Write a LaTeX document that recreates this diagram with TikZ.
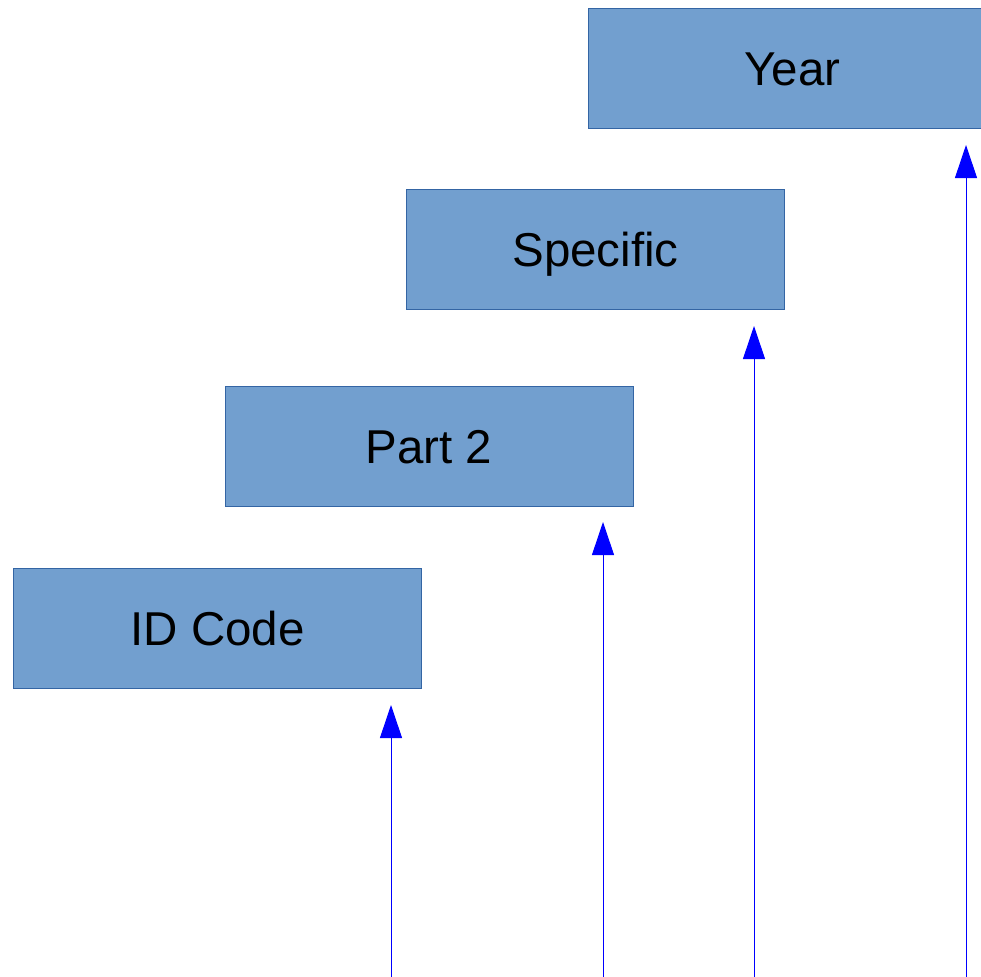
\documentclass[tikz,border=0pt]{standalone}
\usepackage{fontspec}
\setmainfont{Liberation Sans}
\usetikzlibrary{arrows.meta,positioning}
\definecolor{boxfill}{HTML}{729FCF}
\definecolor{boxline}{HTML}{3465A4}

\begin{document}
\begin{tikzpicture}[x=1bp,y=-1bp,
	field/.style={draw=boxline,fill=boxfill,line width=1bp,minimum width=408bp,minimum height=120bp,inner sep=0pt,text height=34bp,text depth=0bp,font=\fontsize{47.5bp}{57bp}\selectfont},
	pointer/.style={color=blue,line width=1bp,-{Triangle[width=22bp,length=33bp]}}]
			\useasboundingbox (0,0) rectangle (981,977);
			\clip (0,0) rectangle (981,977);
			\node[field] (id_code) at (217.5,628) {ID Code};
			\node[field] (part_2) at (429,446.5) {Part 2};
			\node[field,minimum width=378bp] (specific) at (595.5,249.5) {Specific};
			\node[field] (year) at (792.5,68) {Year};
			\coordinate (b_0) at (391,977);
			\coordinate (b_1) at (603,977);
			\coordinate (b_2) at (754,977);
			\coordinate (b_3) at (966,977);
			\coordinate (t_0) at (391,705);
			\coordinate (t_1) at (603,522);
			\coordinate (t_2) at (754,326);
			\coordinate (t_3) at (966,145);
			\path[pointer]
			(b_0) edge (t_0)
			(b_1) edge (t_1)
			(b_2) edge (t_2)
			(b_3) edge (t_3);
		\end{tikzpicture}
\end{document}
